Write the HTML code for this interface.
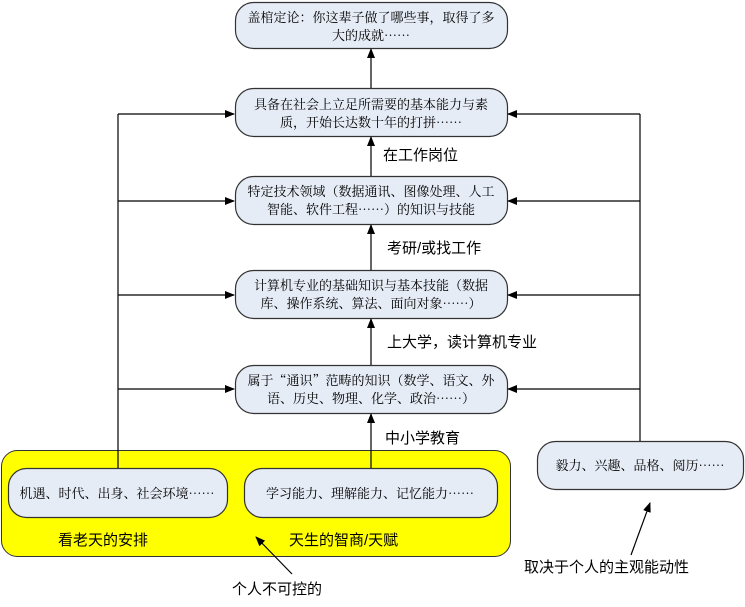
<!DOCTYPE html>
<html><head><meta charset="utf-8"><style>
html,body{margin:0;padding:0;background:#fff;}
svg text{font-family:"Liberation Sans","Noto Sans CJK SC",sans-serif;fill:#000;}
svg text.b, .b text{font-family:"Noto Serif CJK SC","Liberation Serif",serif;font-size:13px;}
.l{font-size:15px;}
</style></head><body>
<svg width="745" height="602" viewBox="0 0 745 602" xmlns="http://www.w3.org/2000/svg">
<defs><marker id="a" markerWidth="10" markerHeight="8" refX="9" refY="4" orient="auto" markerUnits="userSpaceOnUse"><path d="M0,0 L10,4 L0,8 z" fill="#000"/></marker></defs>
<rect x="1.5" y="450.5" width="509" height="106" rx="16" fill="#ffff00" stroke="#333" stroke-width="1"/>
<g fill="#e6ecf6" stroke="#333" stroke-width="1.2">
<rect x="235.5" y="2.5" width="272" height="46" rx="18"/>
<rect x="235.5" y="88.5" width="272" height="48" rx="18"/>
<rect x="235.5" y="176.5" width="272" height="48" rx="18"/>
<rect x="235.5" y="270.5" width="272" height="48" rx="18"/>
<rect x="235.5" y="365.5" width="272" height="48" rx="18"/>
<rect x="8.5" y="468.5" width="219" height="49" rx="18"/>
<rect x="244.5" y="468.5" width="253" height="49" rx="18"/>
<rect x="537.5" y="441.5" width="206" height="48" rx="18"/>
</g>
<g stroke="#000" stroke-width="1.2" fill="none">
<line x1="118" y1="114" x2="118" y2="468"/>
<line x1="640" y1="114" x2="640" y2="441"/>
<line x1="118" y1="114" x2="234" y2="114" marker-end="url(#a)"/>
<line x1="118" y1="201" x2="234" y2="201" marker-end="url(#a)"/>
<line x1="118" y1="295" x2="234" y2="295" marker-end="url(#a)"/>
<line x1="118" y1="389" x2="234" y2="389" marker-end="url(#a)"/>
<line x1="640" y1="114" x2="508" y2="114" marker-end="url(#a)"/>
<line x1="640" y1="201" x2="508" y2="201" marker-end="url(#a)"/>
<line x1="640" y1="295" x2="508" y2="295" marker-end="url(#a)"/>
<line x1="640" y1="389" x2="508" y2="389" marker-end="url(#a)"/>
<line x1="371" y1="88" x2="371" y2="49" marker-end="url(#a)"/>
<line x1="371" y1="176" x2="371" y2="137" marker-end="url(#a)"/>
<line x1="371" y1="270" x2="371" y2="225" marker-end="url(#a)"/>
<line x1="371" y1="365" x2="371" y2="319" marker-end="url(#a)"/>
<line x1="371" y1="468" x2="371" y2="414" marker-end="url(#a)"/>
<line x1="292" y1="574" x2="256" y2="537" marker-end="url(#a)"/>
<line x1="631" y1="555" x2="650" y2="503" marker-end="url(#a)"/>
</g>
<g class="b" text-anchor="middle">
<text x="371" y="22">盖棺定论：你这辈子做了哪些事，取得了多</text>
<text x="371" y="40">大的成就……</text>
<text x="371" y="109">具备在社会上立足所需要的基本能力与素</text>
<text x="371" y="127">质，开始长达数十年的打拼……</text>
<text x="371" y="196">特定技术领域（数据通讯、图像处理、人工</text>
<text x="371" y="214">智能、软件工程……）的知识与技能</text>
<text x="371" y="290">计算机专业的基础知识与基本技能（数据</text>
<text x="371" y="308">库、操作系统、算法、面向对象……）</text>
<text x="371" y="385">属于“通识”范畴的知识（数学、语文、外</text>
<text x="371" y="403">语、历史、物理、化学、政治……）</text>
<text x="117" y="498">机遇、时代、出身、社会环境……</text>
<text x="370" y="498">学习能力、理解能力、记忆能力……</text>
<text x="640" y="470">毅力、兴趣、品格、阅历……</text>
</g>
<g class="l">
<text x="383" y="160">在工作岗位</text>
<text x="387" y="253">考研/或找工作</text>
<text x="387" y="347">上大学，读计算机专业</text>
<text x="385" y="443">中小学教育</text>
<text x="58" y="545">看老天的安排</text>
<text x="289" y="545">天生的智商/天赋</text>
<text x="232" y="594">个人不可控的</text>
<text x="524" y="572">取决于个人的主观能动性</text>
</g>
</svg>
</body></html>
